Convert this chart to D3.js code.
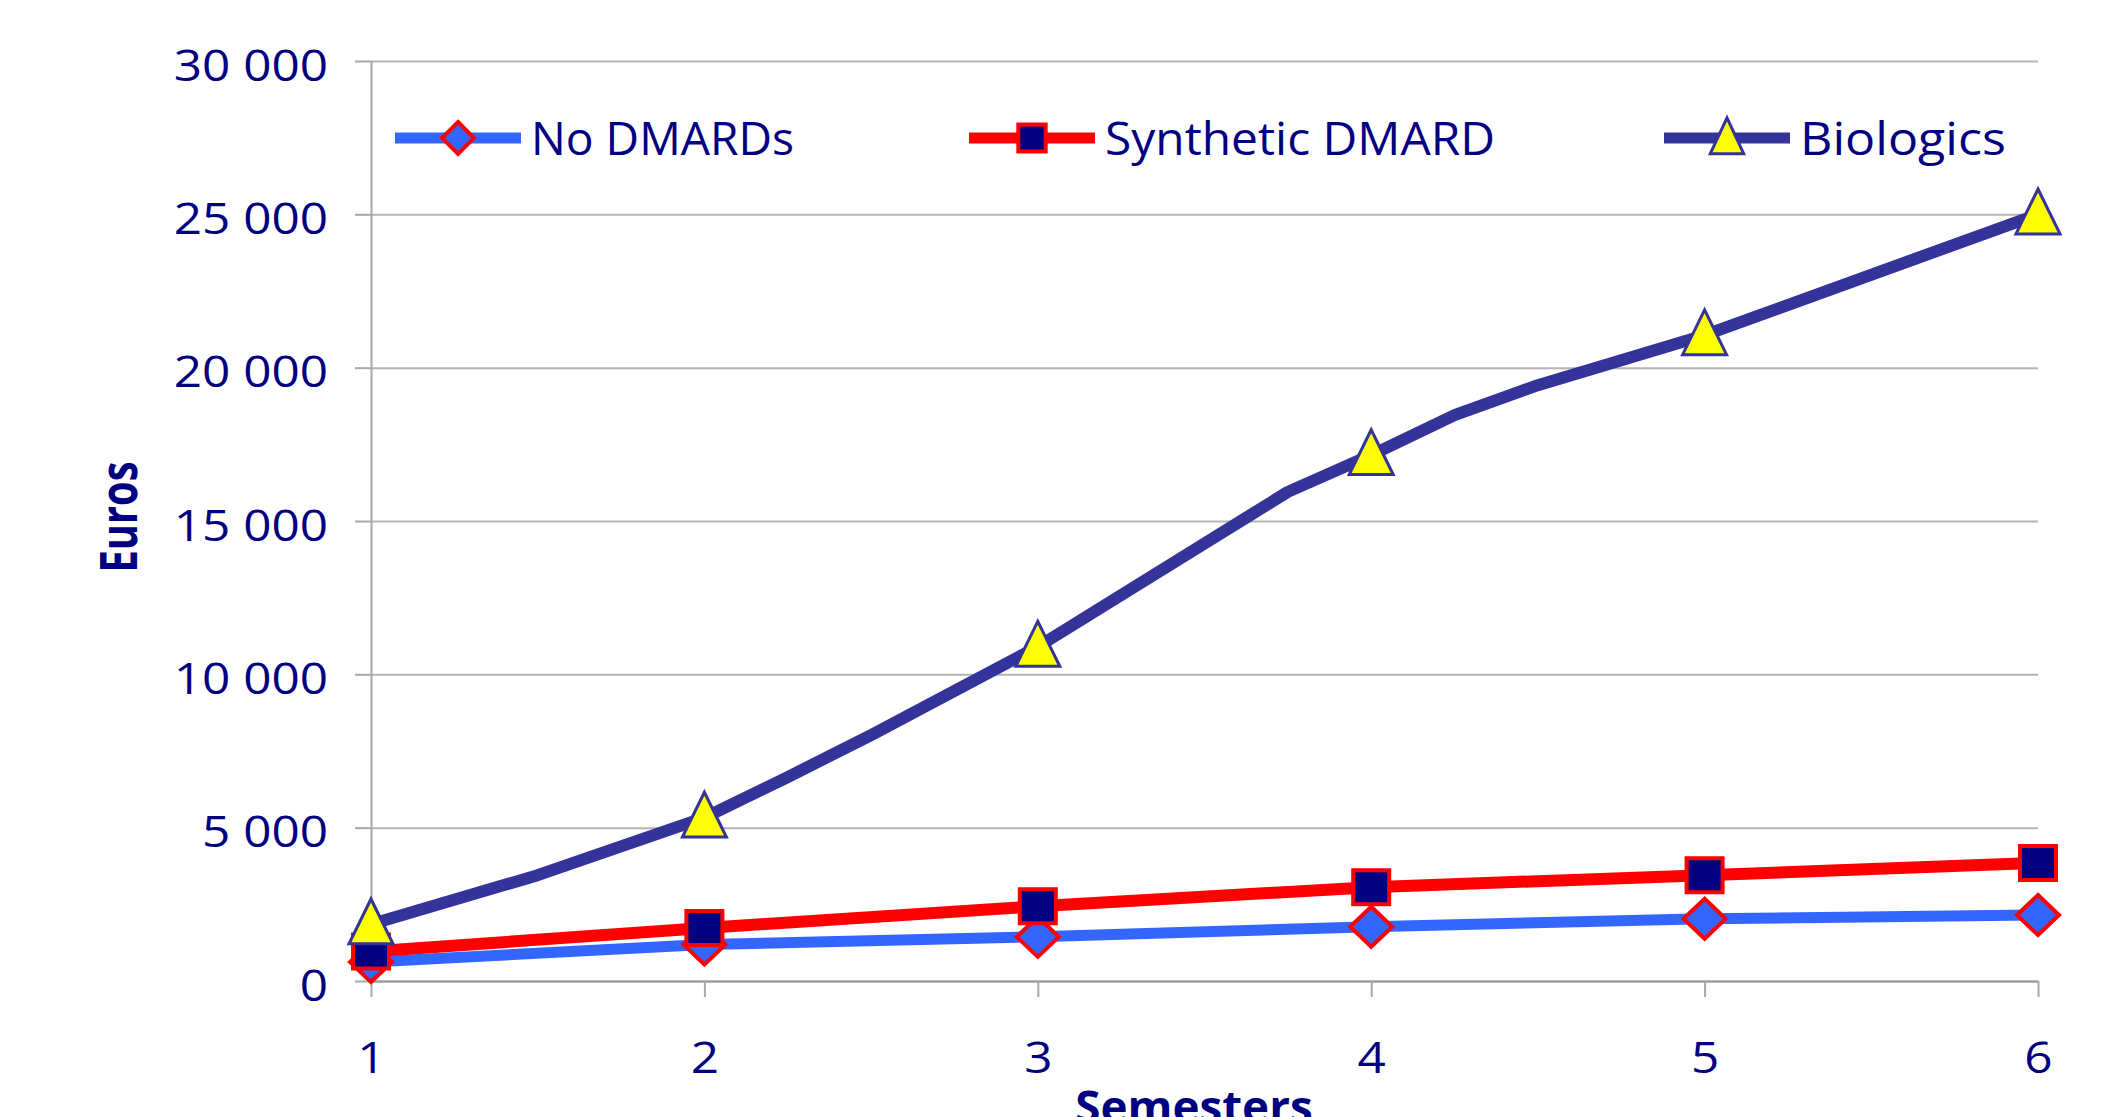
<!DOCTYPE html>
<html>
<head>
<meta charset="utf-8">
<script src="https://cdn.jsdelivr.net/npm/d3@7"></script>
<style>
  body { margin: 0; background: #fff; }
  text { font-family: "Open Sans", sans-serif; fill: #000080; }
</style>
</head>
<body>
<svg id="chart" width="2128" height="1117"></svg>
<script>
// Data
const semesters = [1, 2, 3, 4, 5, 6];
const noDmards = [620, 1190, 1440, 1770, 2030, 2150];
const syntheticDmard = [960, 1730, 2440, 3060, 3450, 3850];
// biologics line has extra bends between semesters
const biologicsX = [1, 1.5, 2, 2.25, 2.5, 3, 3.75, 4, 4.25, 4.5, 5, 6];
const biologicsY = [1850, 3450, 5330, 6650, 8020, 10900, 15950, 17150, 18450, 19430, 21060, 25000];
const yTicks = [0, 5000, 10000, 15000, 20000, 25000, 30000];
const seriesNames = ["No DMARDs", "Synthetic DMARD", "Biologics"];

const svg = d3.select("#chart");
const plotLeft = 371, plotRight = 2038, plotTop = 61, plotBottom = 981;

const x = d3.scaleLinear().domain([1, 6]).range([plotLeft, plotRight]);
const y = d3.scaleLinear().domain([0, 30000]).range([plotBottom, plotTop]);

const fmt = d3.formatLocale({ decimal: ",", thousands: " ", grouping: [3], currency: ["", "€"] }).format(",");

// stretch text sideways like the original
function widen(sel, k) {
  sel.each(function () {
    const w = this.getComputedTextLength();
    d3.select(this).attr("textLength", w * k).attr("lengthAdjust", "spacingAndGlyphs");
  });
}

// gridlines
svg.append("g")
  .attr("transform", `translate(${plotLeft},0)`)
  .call(d3.axisLeft(y).tickValues(yTicks).tickSize(-(plotRight - plotLeft)).tickFormat(""))
  .call(g => g.select(".domain").remove())
  .call(g => g.selectAll("line").attr("stroke", "#b4b4b4").attr("stroke-width", 2));

// y axis
const yAxis = svg.append("g")
  .attr("transform", `translate(${plotLeft},0)`)
  .call(d3.axisLeft(y).tickValues(yTicks).tickSize(16).tickPadding(27).tickSizeOuter(0).tickFormat(fmt));
yAxis.select(".domain").attr("stroke", "#a8a8a8").attr("stroke-width", 2);
yAxis.selectAll("line").attr("stroke", "#a8a8a8").attr("stroke-width", 2);
yAxis.selectAll("text")
  .attr("dy", null).attr("y", 19)
  .style("font-size", "43px").style("font-family", "Open Sans").attr("fill", "#000080")
  .call(widen, 1.15);

// x axis
const xAxis = svg.append("g")
  .attr("transform", `translate(0,${plotBottom})`)
  .call(d3.axisBottom(x).tickValues(semesters).tickSize(16).tickSizeOuter(0).tickFormat(d3.format("d")));
xAxis.select(".domain").attr("stroke", "#999").attr("stroke-width", 2);
xAxis.selectAll("line").attr("stroke", "#a8a8a8").attr("stroke-width", 2);
xAxis.selectAll("text")
  .attr("dy", null).attr("y", 92)
  .style("font-size", "43px").style("font-family", "Open Sans").attr("fill", "#000080")
  .call(widen, 1.15);

// axis titles
svg.append("text")
  .attr("transform", "translate(137,517) rotate(-90)")
  .attr("text-anchor", "middle")
  .style("font-size", "52px").style("font-weight", "bold")
  .attr("textLength", 111).attr("lengthAdjust", "spacingAndGlyphs")
  .text("Euros");

// cut off at the bottom edge, as in the original
svg.append("text")
  .attr("x", 1194).attr("y", 1123)
  .attr("text-anchor", "middle")
  .style("font-size", "44px").style("font-weight", "bold")
  .text("Semesters")
  .call(widen, 1.04);

// marker shapes
const diamond = (w, h) => `M0,${-h}L${w},0L0,${h}L${-w},0Z`;
const square = (w, h) => `M${-w},${-h}H${w}V${h}H${-w}Z`;
const triangle = (w, h) => `M0,${-h * 1.1}L${w},${h * 0.85}L${-w},${h * 0.85}Z`;

const styles = [
  { line: "#3366ff", width: 11, shape: diamond, mw: 21, mh: 20, fill: "#3366ff", stroke: "#ff0000", sw: 4 },
  { line: "#ff0000", width: 12, shape: square, mw: 18, mh: 17, fill: "#000080", stroke: "#ff0000", sw: 4 },
  { line: "#333399", width: 12, shape: triangle, mw: 22, mh: 23, fill: "#ffff00", stroke: "#333399", sw: 3 }
];

const series = [
  { line: semesters.map((s, i) => [s, noDmards[i]]), marks: semesters.map((s, i) => [s, noDmards[i]]) },
  { line: semesters.map((s, i) => [s, syntheticDmard[i]]), marks: semesters.map((s, i) => [s, syntheticDmard[i]]) },
  {
    line: biologicsX.map((s, i) => [s, biologicsY[i]]),
    marks: biologicsX.map((s, i) => [s, biologicsY[i]]).filter(d => Number.isInteger(d[0]))
  }
];

const line = d3.line().x(d => x(d[0])).y(d => y(d[1]));

series.forEach((s, i) => {
  const st = styles[i];
  svg.append("path")
    .datum(s.line)
    .attr("d", line)
    .attr("fill", "none")
    .attr("stroke", st.line)
    .attr("stroke-width", st.width)
    .attr("stroke-linejoin", "round");
  svg.append("g")
    .selectAll("path")
    .data(s.marks)
    .join("path")
    .attr("transform", d => `translate(${x(d[0])},${y(d[1])})`)
    .attr("d", st.shape(st.mw, st.mh))
    .attr("fill", st.fill)
    .attr("stroke", st.stroke)
    .attr("stroke-width", st.sw)
    .attr("stroke-linejoin", "miter");
});

// legend
const legendX = [395, 969, 1664];
const legendW = [263, 390, 206];
const legendY = 138;
seriesNames.forEach((name, i) => {
  const st = styles[i];
  const g = svg.append("g").attr("transform", `translate(${legendX[i]},${legendY})`);
  g.append("line")
    .attr("x1", 0).attr("x2", 126)
    .attr("stroke", st.line).attr("stroke-width", 11);
  g.append("path")
    .attr("transform", "translate(63,0)")
    .attr("d", st.shape(st.mw * 0.76, st.mh * 0.8))
    .attr("fill", st.fill).attr("stroke", st.stroke).attr("stroke-width", st.sw);
  g.append("text")
    .attr("x", 136).attr("y", 17)
    .style("font-size", "45px")
    .attr("textLength", legendW[i]).attr("lengthAdjust", "spacingAndGlyphs")
    .text(name);
});
</script>
</body>
</html>
